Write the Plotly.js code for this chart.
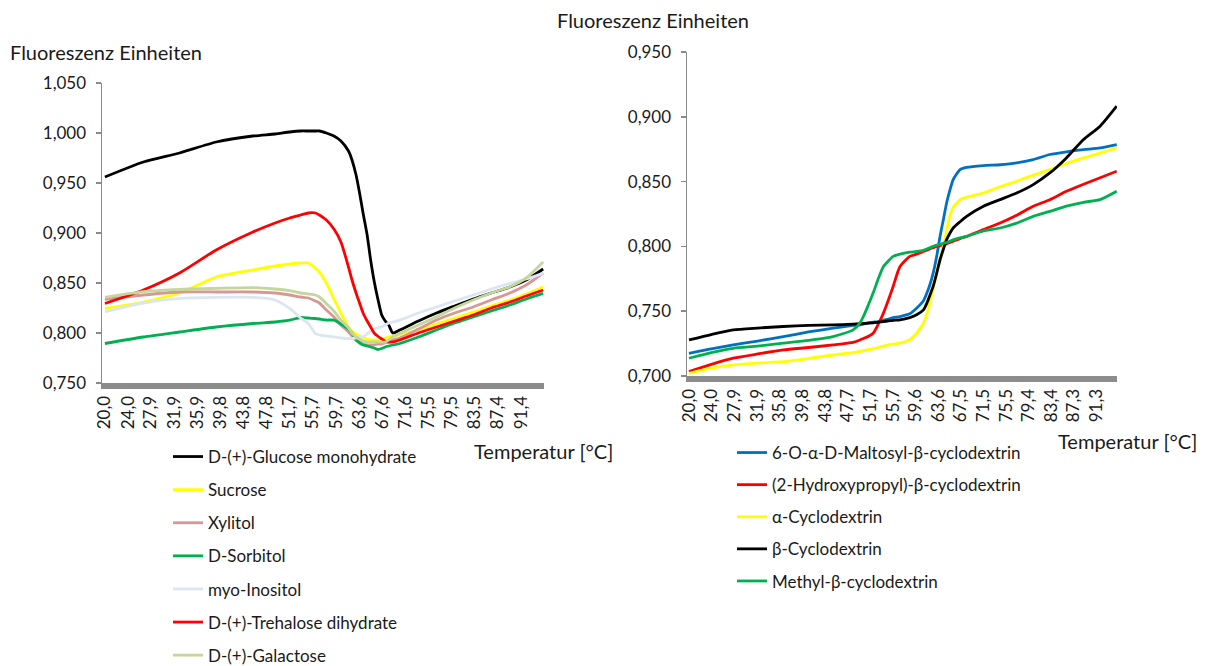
<!DOCTYPE html>
<html>
<head>
<meta charset="utf-8">
<script src="https://cdn.plot.ly/plotly-3.0.1.min.js"></script>
<style>
  html, body { margin: 0; padding: 0; background: #ffffff; }
  #chart { width: 1205px; height: 666px; }
</style>
</head>
<body>
<div id="chart"></div>
<script>
// ---- Sugars / polyols: fluorescence vs temperature ----
const tempSugars = [20.0, 26.6, 32.8, 39.1, 45.4, 49.2, 51.7, 53.6, 54.9, 56.1, 56.8, 58.0,
  59.3, 60.5, 61.8, 62.4, 63.1, 63.7, 64.3, 65.0, 65.6, 66.2, 66.8, 67.5, 68.1, 68.7, 69.4,
  70.6, 73.8, 76.9, 80.0, 83.2, 86.3, 89.5, 92.3, 95.2];

const glucose = [0.956, 0.971, 0.980, 0.991, 0.997, 0.999, 1.001, 1.002, 1.002, 1.002, 1.002, 1.000,
  0.997, 0.992, 0.982, 0.973, 0.958, 0.940, 0.920, 0.898, 0.873, 0.852, 0.835, 0.818, 0.812, 0.808, 0.800,
  0.803, 0.812, 0.820, 0.827, 0.834, 0.840, 0.846, 0.853, 0.864];
const sucrose = [0.8245, 0.831, 0.840, 0.856, 0.863, 0.867, 0.869, 0.870, 0.870, 0.865, 0.861, 0.850,
  0.834, 0.820, 0.806, 0.802, 0.799, 0.797, 0.795, 0.794, 0.793, 0.793, 0.793, 0.794, 0.795, 0.796, 0.797,
  0.798, 0.803, 0.809, 0.815, 0.821, 0.827, 0.833, 0.839, 0.846];
const xylitol = [0.8336, 0.838, 0.841, 0.841, 0.841, 0.840, 0.838, 0.836, 0.835, 0.832, 0.830, 0.823,
  0.816, 0.808, 0.801, 0.797, 0.793, 0.791, 0.789, 0.788, 0.788, 0.788, 0.789, 0.789, 0.790, 0.791, 0.793,
  0.795, 0.804, 0.813, 0.820, 0.826, 0.833, 0.840, 0.848, 0.860];
const sorbitol = [0.7895, 0.796, 0.801, 0.806, 0.8095, 0.811, 0.8128, 0.8155, 0.815, 0.8145, 0.814, 0.813,
  0.8128, 0.809, 0.804, 0.800, 0.7928, 0.790, 0.788, 0.787, 0.786, 0.785, 0.7835, 0.7845, 0.786, 0.787, 0.788,
  0.7895, 0.796, 0.803, 0.810, 0.816, 0.822, 0.828, 0.834, 0.8396];
const inositol = [0.8212, 0.830, 0.8346, 0.8356, 0.8356, 0.833, 0.8246, 0.815, 0.8095, 0.7995, 0.798, 0.797,
  0.7962, 0.795, 0.7945, 0.7945, 0.795, 0.7955, 0.7962, 0.799, 0.802, 0.804, 0.805, 0.806, 0.808, 0.810, 0.811,
  0.8128, 0.820, 0.826, 0.832, 0.838, 0.844, 0.8496, 0.854, 0.8596];
const trehalose = [0.8295, 0.843, 0.860, 0.883, 0.901, 0.910, 0.915, 0.918, 0.920, 0.920, 0.918, 0.913,
  0.904, 0.891, 0.866, 0.853, 0.840, 0.830, 0.820, 0.812, 0.806, 0.800, 0.797, 0.794, 0.792, 0.791, 0.791,
  0.793, 0.800, 0.806, 0.812, 0.818, 0.825, 0.831, 0.837, 0.843];
const galactose = [0.8356, 0.8413, 0.8437, 0.8446, 0.8453, 0.844, 0.8423, 0.840, 0.839, 0.838, 0.836, 0.8296,
  0.822, 0.8128, 0.805, 0.800, 0.7962, 0.794, 0.792, 0.791, 0.791, 0.791, 0.791, 0.791, 0.791, 0.793, 0.796,
  0.7995, 0.808, 0.8162, 0.825, 0.833, 0.840, 0.8463, 0.855, 0.871];

const sugarNames = ["D-(+)-Glucose monohydrate", "Sucrose", "Xylitol", "D-Sorbitol",
  "myo-Inositol", "D-(+)-Trehalose dihydrate", "D-(+)-Galactose"];
const sugarSeries = [glucose, sucrose, xylitol, sorbitol, inositol, trehalose, galactose];
const sugarColors = ["#000000", "#ffff00", "#d99694", "#00b050", "#dce6f2", "#ff0000", "#c3d69b"];

const sugarTickVals = [20.0, 24.0, 27.9, 31.9, 35.9, 39.8, 43.8, 47.8, 51.7, 55.7, 59.7, 63.6,
  67.6, 71.6, 75.5, 79.5, 83.5, 87.4, 91.4];
const sugarTickText = ["20,0", "24,0", "27,9", "31,9", "35,9", "39,8", "43,8", "47,8", "51,7", "55,7",
  "59,7", "63,6", "67,6", "71,6", "75,5", "79,5", "83,5", "87,4", "91,4"];

// ---- Cyclodextrins: fluorescence vs temperature ----
const tempCD = [20.0, 23.9, 27.75, 32.0, 36.5, 40.9, 45.2, 48.7, 49.9, 50.5, 51.1, 52.2, 53.1, 54.0,
  54.9, 55.7, 56.9, 58.6, 59.8, 61.0, 61.6, 62.1, 62.7, 63.3, 63.9, 64.5, 65.05, 65.6, 66.2, 67.4,
  68.55, 71.5, 74.4, 77.3, 80.2, 83.1, 86.0, 89.0, 91.9, 94.8];

const maltosylCD = [0.7175, 0.721, 0.724, 0.727, 0.7304, 0.734, 0.7369, 0.739, 0.7395, 0.740, 0.7407, 0.7415,
  0.742, 0.743, 0.744, 0.745, 0.7459, 0.748, 0.7523, 0.758, 0.764, 0.770, 0.7794, 0.792, 0.8077, 0.821, 0.8335,
  0.843, 0.8516, 0.8593, 0.861, 0.8624, 0.863, 0.8644, 0.867, 0.8709, 0.873, 0.8747, 0.876, 0.8786];
const hydroxypropylCD = [0.7034, 0.709, 0.7137, 0.717, 0.7201, 0.722, 0.724, 0.726, 0.7278, 0.729, 0.730, 0.733,
  0.740, 0.7485, 0.759, 0.7691, 0.7845, 0.7923, 0.794, 0.7961, 0.797, 0.798, 0.799, 0.800, 0.8005, 0.8013, 0.802,
  0.803, 0.804, 0.806, 0.8077, 0.813, 0.818, 0.824, 0.831, 0.836, 0.8425, 0.848, 0.853, 0.858];
const alphaCD = [0.7021, 0.706, 0.7085, 0.710, 0.7111, 0.7135, 0.7162, 0.718, 0.719, 0.7195, 0.7201, 0.721,
  0.722, 0.723, 0.724, 0.7245, 0.7253, 0.728, 0.733, 0.7407, 0.748, 0.7562, 0.767, 0.7794, 0.790, 0.800, 0.812,
  0.8232, 0.830, 0.8361, 0.838, 0.8412, 0.846, 0.8503, 0.855, 0.8593, 0.864, 0.8683, 0.872, 0.876];
const betaCD = [0.7278, 0.732, 0.7356, 0.737, 0.7382, 0.739, 0.7394, 0.740, 0.7403, 0.7405, 0.7407, 0.741,
  0.7415, 0.742, 0.7425, 0.743, 0.7433, 0.745, 0.7472, 0.751, 0.7562, 0.762, 0.7691, 0.779, 0.7897, 0.798, 0.8052,
  0.810, 0.8142, 0.819, 0.8232, 0.831, 0.8361, 0.8412, 0.8477, 0.8567, 0.8683, 0.8825, 0.8928, 0.9082];
const methylCD = [0.7137, 0.718, 0.7214, 0.723, 0.7253, 0.7275, 0.7304, 0.7356, 0.741, 0.7459, 0.752, 0.764,
  0.775, 0.7845, 0.789, 0.7923, 0.794, 0.7955, 0.7961, 0.797, 0.798, 0.799, 0.800, 0.801, 0.8015, 0.8025, 0.803,
  0.804, 0.805, 0.8065, 0.8077, 0.812, 0.8142, 0.818, 0.8232, 0.827, 0.831, 0.834, 0.8361, 0.8425];

const cdNames = ["6-O-α-D-Maltosyl-β-cyclodextrin", "(2-Hydroxypropyl)-β-cyclodextrin",
  "α-Cyclodextrin", "β-Cyclodextrin", "Methyl-β-cyclodextrin"];
const cdSeries = [maltosylCD, hydroxypropylCD, alphaCD, betaCD, methylCD];
const cdColors = ["#0070c0", "#ff0000", "#ffff00", "#000000", "#00b050"];

const cdTickVals = [20.0, 24.0, 27.9, 31.9, 35.8, 39.8, 43.8, 47.7, 51.7, 55.7, 59.6, 63.6,
  67.5, 71.5, 75.5, 79.4, 83.4, 87.3, 91.3];
const cdTickText = ["20,0", "24,0", "27,9", "31,9", "35,8", "39,8", "43,8", "47,7", "51,7", "55,7",
  "59,6", "63,6", "67,5", "71,5", "75,5", "79,4", "83,4", "87,3", "91,3"];

const yTitle = "Fluoreszenz Einheiten";
const xTitle = "Temperatur [°C]";

// ---- build ----
const W = 1205, H = 666;
const px = v => v / W;
const py = v => 1 - v / H;
const FONT = "Lato, 'Open Sans', sans-serif";
const TXT = "#1a1a1a";

const traces = [];
sugarSeries.forEach((vals, i) => traces.push({
  type: "scatter", mode: "lines", x: tempSugars, y: vals, name: sugarNames[i],
  line: { color: sugarColors[i], width: 2.8, shape: "spline", smoothing: 0.6 },
  xaxis: "x", yaxis: "y", legend: "legend", legendgroup: "s" + i
}));
cdSeries.forEach((vals, i) => traces.push({
  type: "scatter", mode: "lines", x: tempCD, y: vals, name: cdNames[i],
  line: { color: cdColors[i], width: 2.8, shape: "spline", smoothing: 0.6 },
  xaxis: "x2", yaxis: "y2", legend: "legend2", legendgroup: "c" + i
}));

const xCommon = {
  showgrid: false, zeroline: false, showline: true, linecolor: "#8c8c8c", linewidth: 6,
  ticks: "", tickangle: -90, tickfont: { family: FONT, size: 17, color: TXT }, fixedrange: true
};
const yCommon = {
  showgrid: false, zeroline: false, showline: true, linecolor: "#8a8a8a", linewidth: 1.5,
  ticks: "outside", ticklen: 5, tickcolor: "#8a8a8a", tickwidth: 1.5, dtick: 0.05,
  tickformat: ".3f", ticklabelstandoff: 6, tickfont: { family: FONT, size: 17, color: TXT }, fixedrange: true
};
const legendCommon = {
  orientation: "v", xanchor: "left", yanchor: "top", bgcolor: "rgba(0,0,0,0)",
  font: { family: FONT, size: 17, color: TXT }, traceorder: "grouped", tracegroupgap: 8
};

const layout = {
  width: W, height: H, separators: ",.",
  margin: { l: 0, r: 0, t: 0, b: 0, autoexpand: false },
  paper_bgcolor: "#ffffff", plot_bgcolor: "#ffffff",
  font: { family: FONT, color: TXT },
  xaxis: Object.assign({}, xCommon, { domain: [px(102), px(544)], range: [19.5, 95.35], anchor: "y",
    tickvals: sugarTickVals, ticktext: sugarTickText }),
  yaxis: Object.assign({}, yCommon, { domain: [py(383), py(83)], range: [0.75, 1.05], anchor: "x" }),
  xaxis2: Object.assign({}, xCommon, { domain: [px(687), px(1117)], range: [19.65, 94.85], anchor: "y2",
    tickvals: cdTickVals, ticktext: cdTickText }),
  yaxis2: Object.assign({}, yCommon, { domain: [py(376), py(52)], range: [0.70, 0.95], anchor: "x2" }),
  legend: Object.assign({}, legendCommon, { x: px(168), y: py(439) }),
  legend2: Object.assign({}, legendCommon, { x: px(732), y: py(435), tracegroupgap: 7 }),
  annotations: [
    { text: yTitle, xref: "paper", yref: "paper", x: px(8), y: py(52), xanchor: "left", yanchor: "middle",
      showarrow: false, font: { family: FONT, size: 20, color: TXT } },
    { text: yTitle, xref: "paper", yref: "paper", x: px(555), y: py(20), xanchor: "left", yanchor: "middle",
      showarrow: false, font: { family: FONT, size: 20, color: TXT } },
    { text: xTitle, xref: "paper", yref: "paper", x: px(472), y: py(451), xanchor: "left", yanchor: "middle",
      showarrow: false, font: { family: FONT, size: 20, color: TXT } },
    { text: xTitle, xref: "paper", yref: "paper", x: px(1056), y: py(441), xanchor: "left", yanchor: "middle",
      showarrow: false, font: { family: FONT, size: 20, color: TXT } }
  ],
  showlegend: true
};

Plotly.newPlot("chart", traces, layout, { displayModeBar: false, staticPlot: true });
</script>
</body>
</html>
